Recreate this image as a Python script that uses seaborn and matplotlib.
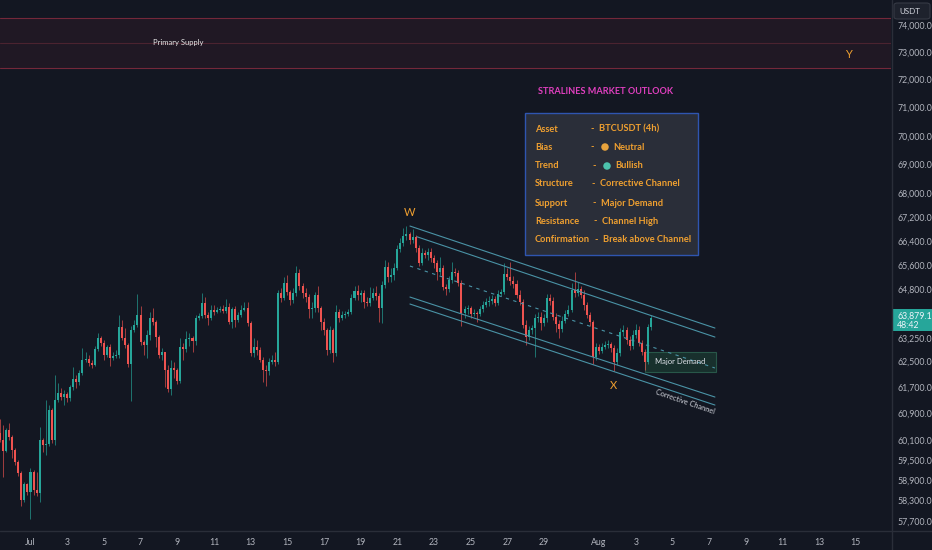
import numpy as np
import pandas as pd
import matplotlib.pyplot as plt
import matplotlib.patches as mpatches
from matplotlib.lines import Line2D
from matplotlib.ticker import NullLocator
import seaborn as sns

# -----------------------------
# Data (BTCUSDT 4h)
# -----------------------------
first_open = 60300
first_candle = "2024-06-29 08:00"

closes = [
    60090, 59760, 60390, 60180, 59790, 59430, 59100, 58310, 58780, 58540,
    59130, 58600, 58515, 60090, 59940, 59970, 61000, 60090, 61310, 61525,
    61400, 61495, 61370, 61710, 61960, 61865, 62145, 62550, 62580, 62455,
    62395, 62900, 63245, 63085, 62710, 62960, 62615, 62675, 62710, 63595,
    63245, 63025, 62425, 63500, 63660, 63980, 63120, 63025, 63340, 63885,
    63755, 63275, 62710, 62800, 62240, 61645, 62300, 62240, 61895, 62960,
    62900, 63215, 63245, 63150, 63885, 63945, 64365, 63980, 63885, 64140,
    64075, 64140, 64170, 64110, 64235, 63755, 64170, 63820, 63980, 64140,
    64205, 63720, 62770, 62960, 62865, 62550, 62240, 62205, 62490, 62550, 62490,
    64690, 64525, 65015, 64720, 64460, 64690, 65340, 64915, 64690, 64560,
    64170, 64205, 64625, 64205, 63755, 63500, 62865, 63500, 62770, 64075,
    63885, 63980, 64010, 64075, 64525, 64755, 64625, 64690, 64400, 64365,
    64525, 64690, 64590, 64205, 64950, 65540, 65210, 65275, 65505, 66130,
    66330, 66565, 66630, 66430, 66530, 66165, 65670, 66000, 65935, 66030,
    65835, 65670, 65375, 65505, 64885, 64820, 65110, 65375, 65340, 65015,
    64045, 64170, 64205, 64010, 64045, 64010, 64170, 64300, 64400, 64430,
    64495, 64365, 64655, 64720, 65310, 65210, 65080, 64980, 64625, 64400,
    63660, 63275, 63500, 63565, 63885, 63915, 63720, 63885, 64525, 64430,
    63915, 63690, 63530, 63785, 64010, 64140, 64785, 64690, 64820, 64625,
    64300, 63980, 63755, 62645, 62960, 62835, 62960, 63025, 63055, 62930,
    62490, 62770, 63435, 63500, 63180, 62990, 63340, 63500, 63085, 62800, 62490, 63595, 63879.1,
]

highs = [
    60730, 60540, 60450, 60605, 60240, 59850, 59490, 59160, 58840, 58810,
    59250, 59190, 59130, 60485, 60150, 61310, 61155, 61060, 62080, 61830,
    61680, 61615, 61555, 61770, 62330, 62080, 62240, 62930, 62800, 62710,
    62550, 62990, 63405, 63310, 63180, 63025, 63055, 62800, 62865, 63980,
    63820, 63565, 63085, 63625, 63820, 64655, 64270, 63180, 63500, 64075,
    64205, 63820, 63340, 62930, 62800, 62395, 62550, 62490, 62300, 63245,
    63085, 63470, 63405, 63310, 63980, 64045, 64690, 64560, 64075, 64300,
    64300, 64235, 64270, 64300, 64495, 64365, 64235, 64270, 64075, 64300,
    64400, 64400, 63785, 63245, 63180, 62960, 62645, 62395, 62615, 62710, 62800,
    64785, 64850, 65210, 65275, 64785, 64850, 65570, 65470, 65015, 64850,
    64655, 64400, 64720, 64915, 64270, 63885, 63565, 63625, 63565, 64300,
    64170, 64110, 64110, 64170, 64655, 64915, 64950, 64785, 64785, 64560,
    64885, 64850, 64915, 64690, 65080, 65770, 65700, 65505, 65670, 66265,
    66500, 66835, 66900, 66700, 66800, 66600, 66265, 66165, 66100, 66165,
    66165, 65935, 65770, 65870, 65605, 64980, 65245, 65700, 65505, 65440,
    65110, 64270, 64300, 64270, 64170, 64110, 64270, 64430, 64525, 64590,
    64625, 64590, 64785, 64820, 65670, 65505, 65700, 65245, 65110, 64785,
    64495, 63820, 63625, 63660, 64010, 64075, 64075, 64010, 64655, 64655,
    64560, 64045, 63820, 63945, 64140, 64300, 65015, 65375, 65045, 64915,
    64785, 64400, 64075, 63820, 63085, 63055, 63085, 63150, 63180, 63120,
    63025, 62930, 63565, 63660, 63595, 63310, 63500, 63690, 63625, 63180, 62900, 63690, 63980,
]

lows = [
    60030, 58990, 59730, 60090, 59550, 59340, 59015, 58135, 58250, 58455,
    57755, 58455, 58425, 58250, 59730, 59640, 59910, 60000, 59940, 61245,
    61310, 61155, 61245, 61275, 61615, 61680, 61770, 62080, 62490, 62365,
    62300, 62365, 62835, 62990, 62550, 62645, 62365, 62550, 62615, 62615,
    63180, 62930, 62330, 61275, 63435, 63595, 63025, 62710, 62615, 63180,
    63660, 62960, 62615, 62550, 61710, 61555, 61460, 61990, 61800, 61830,
    62550, 62800, 62990, 62800, 63025, 63820, 63885, 63885, 63660, 63820,
    63980, 64045, 64075, 64045, 64045, 63690, 63565, 63595, 63755, 63915,
    64110, 63625, 62675, 62645, 62710, 62490, 61865, 61740, 62080, 62425, 62365,
    62425, 64400, 64460, 64625, 64300, 64365, 64590, 64785, 64525, 64400,
    63885, 63885, 64075, 64075, 63500, 63340, 62710, 62770, 62490, 62675,
    63755, 63820, 63885, 63945, 64010, 64460, 64460, 64400, 64205, 64270,
    64270, 64460, 64460, 63755, 63720, 64850, 65045, 65045, 65110, 65440,
    66030, 66230, 66430, 66300, 66330, 66030, 65570, 65605, 65835, 65770,
    65700, 65505, 65110, 65275, 64785, 64625, 64720, 65015, 65245, 64915,
    63625, 63885, 64010, 63885, 63945, 63755, 63945, 64075, 64235, 64270,
    64335, 64270, 64300, 64590, 64655, 65110, 64950, 64850, 64525, 64300,
    63565, 63025, 63180, 63370, 62645, 63755, 63500, 63625, 63755, 64300,
    63820, 63435, 63245, 63435, 63720, 63945, 64075, 64560, 64590, 64525,
    64140, 63885, 63625, 62425, 62550, 62740, 62770, 62900, 62930, 62800,
    62205, 62395, 62675, 63310, 63055, 62865, 62900, 63245, 62990, 62710, 62240, 62425, 63500,
]

# channel / zones (day offsets from Jul 1, prices)
chan_days = [20.69, 37.32]
chan_upper_a = [66900, 63563]
chan_upper_b_days = [21.07, 37.32]
chan_upper_b = [66542, 63276]
chan_mid = [65571, 62301]
chan_lower_c = [64559, 61400]
chan_lower_d = [64333, 61154]

supply_zone = [72420, 73335, 74260]
demand_days = [33.51, 37.38]
demand_zone = [62176, 62802]

price_ticks = [74000, 73000, 72000, 71000, 70000, 69000, 68000, 67200, 66400,
               65600, 64800, 63250, 62500, 61700, 60900, 60100, 59500, 58900,
               58300, 57700]
date_tick_days = [0, 2, 4, 6, 8, 10, 12, 14, 16, 18, 20, 22, 24, 26, 28,
                  31, 33, 35, 37, 39, 41, 43, 45]
date_tick_labels = ["Jul", "3", "5", "7", "9", "11", "13", "15", "17", "19",
                    "21", "23", "25", "27", "29", "Aug", "3", "5", "7", "9",
                    "11", "13", "15"]

info_rows = [
    ("Asset", "BTCUSDT (4h)", None),
    ("Bias", "Neutral", "#e8a33d"),
    ("Trend", "Bullish", "#4cc2ad"),
    ("Structure", "Corrective Channel", None),
    ("Support", "Major Demand", None),
    ("Resistance", "Channel High", None),
    ("Confirmation", "Break above Channel", None),
]

# -----------------------------
# Build candle table
# -----------------------------
times = pd.date_range(first_candle, periods=len(closes), freq="4h")
df = pd.DataFrame({"time": times, "close": closes, "high": highs, "low": lows})
df["open"] = [first_open] + closes[:-1]
df["day"] = (df["time"] - pd.Timestamp("2024-07-01")) / pd.Timedelta(days=1)
df["high"] = df[["high", "open", "close"]].max(axis=1)
df["low"] = df[["low", "open", "close"]].min(axis=1)
df["up"] = df["close"] >= df["open"]

# -----------------------------
# Style
# -----------------------------
BG = "#131722"
TXT = "#b2b5be"
GREEN = "#26a69a"
RED = "#ef5350"
CHAN = "#4a93a6"
ORANGE = "#f0a030"

sns.set_theme(style="dark", rc={"axes.facecolor": BG, "figure.facecolor": BG})
plt.rcParams["font.family"] = ["Lato", "DejaVu Sans"]

W_PX, H_PX = 932, 550


def fx(px):
    return px / W_PX


def fy(py):
    return 1 - py / H_PX


fig = plt.figure(figsize=(W_PX / 100, H_PX / 100), dpi=100)
ax = fig.add_axes([0, fy(531), fx(891), 531 / H_PX])
ax.set_facecolor(BG)
ax.set_yscale("log")
ax.set_xlim(-1.663, 46.92)
ax.set_ylim(57409, 74934)

# -----------------------------
# Supply zone
# -----------------------------
ax.axhspan(supply_zone[0], supply_zone[2], color="#2a1a26", alpha=0.6, lw=0, zorder=1)
ax.axhline(supply_zone[0], color="#74283a", lw=0.8, zorder=2)
ax.axhline(supply_zone[2], color="#74283a", lw=0.8, zorder=2)
ax.axhline(supply_zone[1], color="#4b2330", lw=0.8, zorder=2)
ax.text(8.04, supply_zone[1], "Primary Supply", color="#e6e6e6", fontsize=5.5,
        ha="center", va="center", zorder=3)

# -----------------------------
# Candles
# -----------------------------
for up, color in [(True, GREEN), (False, RED)]:
    sub = df[df["up"] == up]
    ax.vlines(sub["day"], sub["low"], sub["high"], color=color, lw=0.7,
              alpha=0.65, zorder=4)
    bottoms = sub[["open", "close"]].min(axis=1)
    tops = sub[["open", "close"]].max(axis=1)
    heights = np.maximum(tops - bottoms, 25)
    ax.bar(sub["day"], heights, bottom=bottoms, width=0.11, color=color,
           lw=0, zorder=5)

# -----------------------------
# Channel
# -----------------------------
chan = pd.DataFrame({"day": chan_days, "a": chan_upper_a, "mid": chan_mid,
                     "c": chan_lower_c, "d": chan_lower_d})
chan_b = pd.DataFrame({"day": chan_upper_b_days, "b": chan_upper_b})
for col in ["a", "c", "d"]:
    sns.lineplot(data=chan, x="day", y=col, ax=ax, color=CHAN, lw=0.8, zorder=6)
sns.lineplot(data=chan_b, x="day", y="b", ax=ax, color=CHAN, lw=0.8, zorder=6)
sns.lineplot(data=chan, x="day", y="mid", ax=ax, color=CHAN, lw=0.8,
             linestyle=(0, (3, 4)), zorder=6)

# demand box
ax.add_patch(mpatches.Rectangle((demand_days[0], demand_zone[0]),
                                demand_days[1] - demand_days[0],
                                demand_zone[1] - demand_zone[0],
                                facecolor="#1a3530", edgecolor="#2c6150",
                                lw=0.8, alpha=0.85, zorder=3))
ax.text(35.41, 62520, "Major Demand", color="#e0e3eb", fontsize=5.5,
        ha="center", va="center", zorder=7)
ax.text(35.69, 61246, "Corrective Channel", color="#d1d4dc", fontsize=5.3,
        ha="center", va="center", rotation=-19, rotation_mode="anchor", zorder=7)

# wave labels
ax.text(20.69, 67373, "W", color=ORANGE, fontsize=8, ha="center", va="center")
ax.text(31.81, 61771, "X", color=ORANGE, fontsize=8, ha="center", va="center")
ax.text(44.62, 72931, "Y", color=ORANGE, fontsize=8, ha="center", va="center")

# -----------------------------
# Axes
# -----------------------------
ax.yaxis.tick_right()
ax.yaxis.set_minor_locator(NullLocator())
ax.set_yticks(price_ticks)
ax.set_yticklabels([f"{p:,.1f}" for p in price_ticks])
ax.set_xticks(date_tick_days)
ax.set_xticklabels(date_tick_labels)
ax.tick_params(axis="y", length=0, pad=5, labelsize=6.3, labelcolor=TXT)
ax.tick_params(axis="x", length=0, pad=5, labelsize=6.3, labelcolor=TXT)
ax.grid(False)
ax.set_xlabel("")
ax.set_ylabel("")
for s in ax.spines.values():
    s.set_visible(False)

fig.add_artist(Line2D([fx(891.5), fx(891.5)], [0, 1], color="#2a2e39", lw=1))
fig.add_artist(Line2D([0, 1], [fy(531), fy(531)], color="#2a2e39", lw=1))

# USDT box
fig.add_artist(mpatches.FancyBboxPatch((fx(894), fy(19)), fx(36), 16 / H_PX,
                                       boxstyle="round,pad=0,rounding_size=0.004",
                                       facecolor="#1e222d", edgecolor="#363a45",
                                       lw=0.8))
fig.text(fx(899), fy(11), "USDT", color="#d1d4dc", fontsize=5.8, va="center")

# last price label
fig.add_artist(mpatches.Rectangle((fx(892), fy(331)), fx(40), 22 / H_PX,
                                  facecolor=GREEN, edgecolor="none"))
fig.text(fx(897), fy(316), f"{closes[-1]:,.1f}", color="#f0f3fa",
         fontsize=6.3, va="center")
fig.text(fx(897), fy(326), "48:42", color="#f0f3fa", fontsize=6.3, va="center")

# -----------------------------
# Outlook panel
# -----------------------------
fig.text(fx(606), fy(91), "STRALINES MARKET OUTLOOK", color="#e03fbf",
         fontsize=6.6, fontweight="bold", ha="center", va="center")
fig.add_artist(mpatches.Rectangle((fx(525), fy(255)), fx(173), 142 / H_PX,
                                  facecolor="#2a2e39", edgecolor="#2f55b0",
                                  lw=1.0))
row_y = [129, 147, 166, 184, 203, 221, 240]
dash_x = [590, 590, 592, 591, 592, 593, 594]
for (label, value, dot), py, dx in zip(info_rows, row_y, dash_x):
    fig.text(fx(535), fy(py), label, color=ORANGE, fontsize=6.7,
             fontweight="bold", va="center")
    fig.text(fx(dx), fy(py), "-", color=ORANGE, fontsize=6.7,
             fontweight="bold", va="center")
    vx = dx + 9
    if dot:
        fig.add_artist(mpatches.Ellipse((fx(dx + 15), fy(py)), 7.5 / W_PX,
                                        7.5 / H_PX, facecolor=dot,
                                        edgecolor="none"))
        vx = dx + 23
    fig.text(fx(vx), fy(py), value, color=ORANGE, fontsize=6.7,
             fontweight="bold", va="center")

fig.savefig("out.png", dpi=100, facecolor=BG)
